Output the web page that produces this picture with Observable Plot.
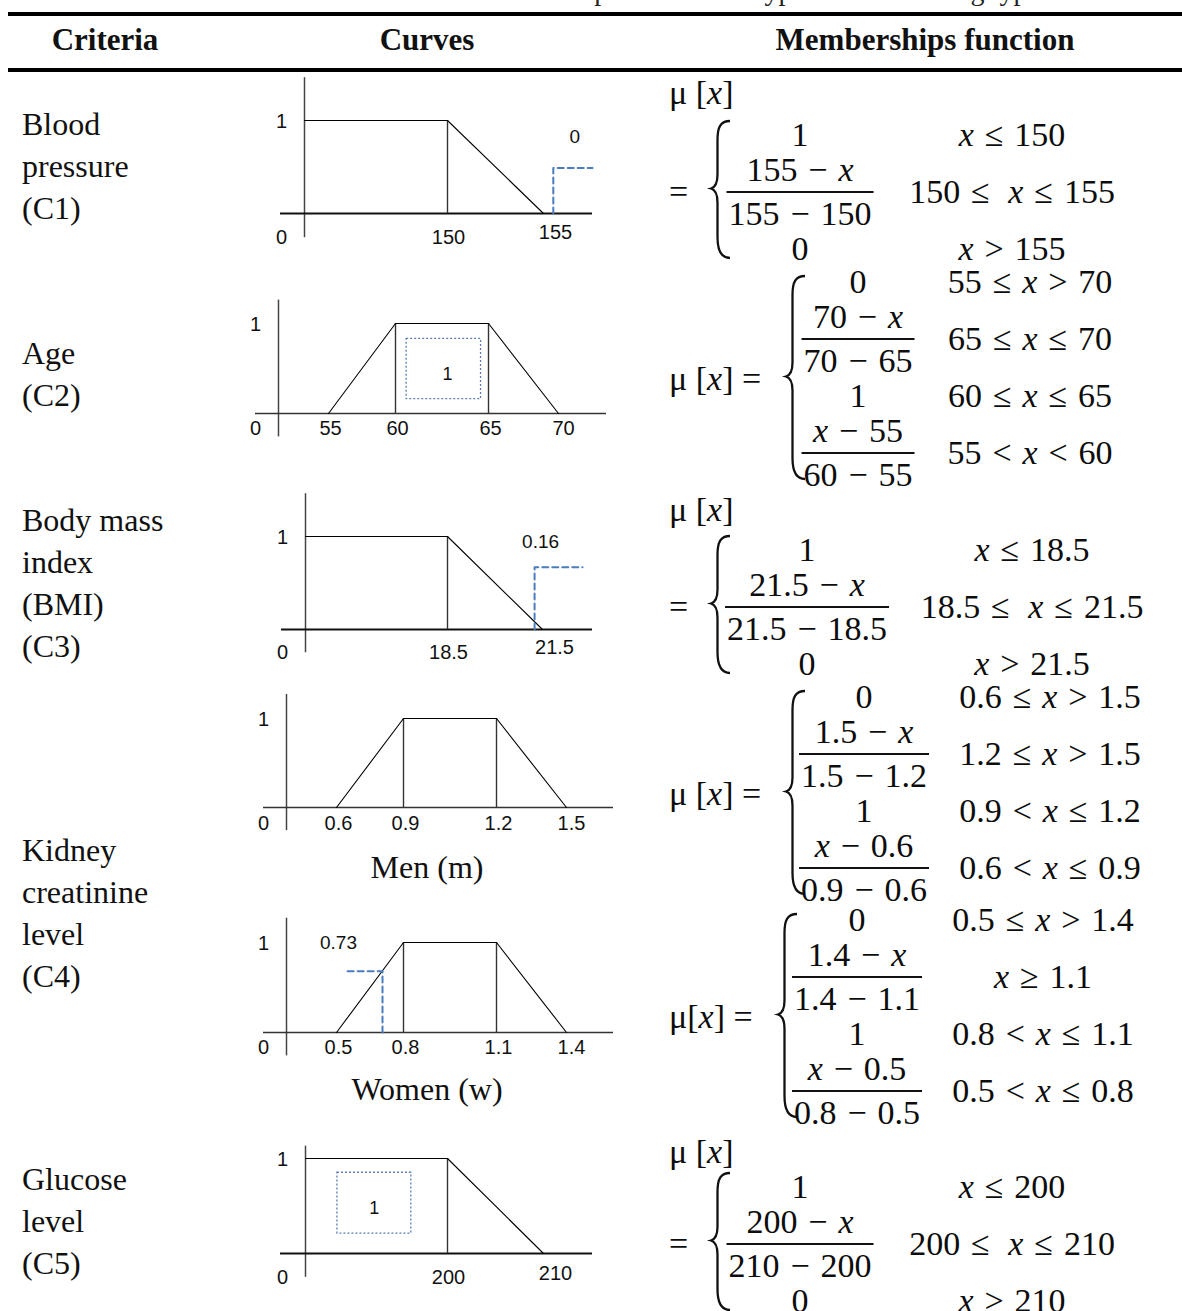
<!DOCTYPE html>
<html><head><meta charset="utf-8">
<script src="https://cdn.jsdelivr.net/npm/d3@7"></script>
<script src="https://cdn.jsdelivr.net/npm/@observablehq/plot@0.6"></script>
<style>
body{margin:0;background:#fff;}
#page{position:relative;width:1182px;height:1311px;overflow:hidden;background:#fff;color:#111;font-family:"Liberation Serif","Times New Roman",serif;}
.abs{position:absolute;white-space:nowrap;}
.rule{position:absolute;left:8px;right:0;background:#000;}
.hdr{font-weight:bold;font-size:31px;line-height:31px;transform:translateX(-50%);}
.crit{font-size:32px;line-height:42px;left:22px;}
.sub{font-size:32px;line-height:32px;transform:translateX(-50%);}
.math{font-family:"Liberation Serif",serif;font-size:34px;line-height:26px;color:#0d0d0d;}
.math i{font-style:italic;}
.op{margin:0 0.32em;}
.op.wide{margin-right:0.55em;}
.frac{display:inline-flex;flex-direction:column;align-items:center;}
.num{padding:0 2px 7.45px 2px;line-height:26px;}
.bar{align-self:stretch;height:2.6px;background:#111;}
.den{padding:7.45px 2px 0 2px;line-height:26px;}
.chart{position:absolute;left:240px;}
</style></head>
<body><div id="page"></div>
<script>
// ---------------- DATA ----------------
const captionText = "Table 3. Curves and memberships function of types of CKD rating types";
const headers = ["Criteria", "Curves", "Memberships function"];
const criteriaLabels = [
  ["Blood", "pressure", "(C1)"],
  ["Age", "(C2)"],
  ["Body mass", "index", "(BMI)", "(C3)"],
  ["Kidney", "creatinine", "level", "(C4)"],
  ["Glucose", "level", "(C5)"]
];
const subLabels = ["Men (m)", "Women (w)"];

// C1 blood pressure
const bpTicks = [0, 150, 155];
const bpTickLabels = ["0", "150", "155"];
const bpCurveX = [0, 150, 155];
const bpCurveY = [1, 1, 0];
const bpDrops = [150];
const bpMarkerX = [156, 156, 160];
const bpMarkerY = [0, 0.49, 0.49];
const bpNote = ["0", 158.2, 0.82];

// C2 age
const ageTicks = [0, 55, 60, 65, 70];
const ageTickLabels = ["0", "55", "60", "65", "70"];
const ageCurveX = [55, 60, 65, 70];
const ageCurveY = [0, 1, 1, 0];
const ageDrops = [60, 65];
const ageBox = [60.6, 64.6, 0.16, 0.83];
const ageNote = ["1", 62.8, 0.44];

// C3 BMI
const bmiTicks = [0, 18.5, 21.5];
const bmiTickLabels = ["0", "18.5", "21.5"];
const bmiCurveX = [0, 18.5, 21.5];
const bmiCurveY = [1, 1, 0];
const bmiDrops = [18.5];
const bmiMarkerX = [21.25, 21.25, 22.7];
const bmiMarkerY = [0, 0.67, 0.67];
const bmiNote = ["0.16", 21.44, 0.94];

// C4 creatinine, men
const menTicks = [0, 0.6, 0.9, 1.2, 1.5];
const menTickLabels = ["0", "0.6", "0.9", "1.2", "1.5"];
const menCurveX = [0.6, 0.9, 1.2, 1.5];
const menCurveY = [0, 1, 1, 0];
const menDrops = [0.9, 1.2];

// C4 creatinine, women
const womenTicks = [0, 0.5, 0.8, 1.1, 1.4];
const womenTickLabels = ["0", "0.5", "0.8", "1.1", "1.4"];
const womenCurveX = [0.5, 0.8, 1.1, 1.4];
const womenCurveY = [0, 1, 1, 0];
const womenDrops = [0.8, 1.1];
const womenMarkerX = [0.55, 0.706, 0.706];
const womenMarkerY = [0.68, 0.68, 0];
const womenNote = ["0.73", 0.509, 0.99];

// C5 glucose
const gluTicks = [0, 200, 210];
const gluTickLabels = ["0", "200", "210"];
const gluCurveX = [0, 200, 210];
const gluCurveY = [1, 1, 0];
const gluDrops = [200];
const gluBox = [45, 149, 0.21, 0.85];
const gluNote = ["1", 97, 0.48];

// membership functions (value | condition)
const bpRows = [
  {val: "1", cond: "x ≤ 150"},
  {num: "155 − x", den: "155 − 150", cond: "150 ≤  x ≤ 155"},
  {val: "0", cond: "x > 155"}
];
const ageRows = [
  {val: "0", cond: "55 ≤ x > 70"},
  {num: "70 − x", den: "70 − 65", cond: "65 ≤ x ≤ 70"},
  {val: "1", cond: "60 ≤ x ≤ 65"},
  {num: "x − 55", den: "60 − 55", cond: "55 < x < 60"}
];
const bmiRows = [
  {val: "1", cond: "x ≤ 18.5"},
  {num: "21.5 − x", den: "21.5 − 18.5", cond: "18.5 ≤  x ≤ 21.5"},
  {val: "0", cond: "x > 21.5"}
];
const menRows = [
  {val: "0", cond: "0.6 ≤ x > 1.5"},
  {num: "1.5 − x", den: "1.5 − 1.2", cond: "1.2 ≤ x > 1.5"},
  {val: "1", cond: "0.9 < x ≤ 1.2"},
  {num: "x − 0.6", den: "0.9 − 0.6", cond: "0.6 < x ≤ 0.9"}
];
const womenRows = [
  {val: "0", cond: "0.5 ≤ x > 1.4"},
  {num: "1.4 − x", den: "1.4 − 1.1", cond: "x ≥ 1.1"},
  {val: "1", cond: "0.8 < x ≤ 1.1"},
  {num: "x − 0.5", den: "0.8 − 0.5", cond: "0.5 < x ≤ 0.8"}
];
const gluRows = [
  {val: "1", cond: "x ≤ 200"},
  {num: "200 − x", den: "210 − 200", cond: "200 ≤  x ≤ 210"},
  {val: "0", cond: "x > 210"}
];

// ---------------- LAYOUT ----------------
const page = document.getElementById("page");
function el(tag, cls, style, parent = page) {
  const e = document.createElement(tag);
  if (cls) e.className = cls;
  if (style) e.style.cssText = style;
  parent.appendChild(e);
  return e;
}

// caption (cut at the top edge) and rules
const cap = el("div", "abs", "left:645px;top:-23px;font-size:28px;line-height:28px;transform:translateX(-50%);color:#222;");
cap.textContent = captionText;
el("div", "rule", "top:12px;height:4px;");
el("div", "rule", "top:68px;height:4px;");
const hdrX = [105, 427, 925];
headers.forEach((h, i) => {
  const d = el("div", "abs hdr", `left:${hdrX[i]}px;top:24px;`);
  d.textContent = h;
});

// criteria column
const critBaselines = [135, 364, 531, 861, 1190];
criteriaLabels.forEach((lines, i) => {
  const d = el("div", "abs crit", `top:${critBaselines[i] - 32}px;`);
  d.innerHTML = lines.join("<br>");
});
const subY = [870, 1092];
subLabels.forEach((s, i) => {
  const d = el("div", "abs sub", `left:427px;top:${subY[i] - 19}px;`);
  d.textContent = s;
});

// ---------------- CHARTS ----------------
const labelFont = "Liberation Sans, Arial, sans-serif";
const LABEL_SIZE = 20;
function curveChart(c) {
  const L = 240;
  const xr = c.xRange.map(v => v - L);
  const yr = [c.y0 - c.top, c.y1 - c.top];
  const xd = c.xDomain;
  const curve = c.curveX.map((x, i) => ({x, y: c.curveY[i]}));
  const ticks = c.ticks.map((v, i) => ({v, t: c.labels[i]}));
  const last = ticks.length - 1;
  const txt = {fontSize: LABEL_SIZE, fontFamily: labelFont, fill: "#111"};
  const marks = [
    Plot.ruleX([0], {x: d => d, y1: () => c.yAxis[0], y2: () => c.yAxis[1], stroke: "#444", strokeWidth: 1.5}),
    Plot.ruleY([0], {y: d => d, x1: () => xd[0], x2: () => xd[xd.length - 1], stroke: c.axisColor, strokeWidth: c.axisW}),
    Plot.ruleX(c.drops, {x: d => d, y1: () => 0, y2: () => 1, stroke: "#333", strokeWidth: 1.4}),
    Plot.line(curve, {x: "x", y: "y", stroke: "#000", strokeWidth: 1.1}),
    Plot.text(ticks.filter((d, i) => i > 0 && i < last), {x: "v", y: () => 0, text: "t", dy: c.labelDy, dx: c.labelDx, ...txt}),
    Plot.text(ticks.filter((d, i) => i === last), {x: "v", y: () => 0, text: "t", dy: c.labelDy + c.lastDy, dx: c.lastDx, ...txt}),
    Plot.text(ticks.filter(d => d.v === 0), {x: "v", y: () => 0, text: "t", dy: c.labelDy, dx: -23, ...txt}),
    Plot.text(["1"], {x: () => 0, y: () => 1, text: d => d, dx: -23, dy: 1, ...txt})
  ];
  if (c.markerX) {
    const pts = c.markerX.map((x, i) => ({x, y: c.markerY[i]}));
    marks.push(Plot.line(pts, {x: "x", y: "y", stroke: "#4a7cbf", strokeWidth: 2, strokeDasharray: "6,4"}));
  }
  if (c.box) {
    marks.push(Plot.rect([c.box], {x1: d => d[0], x2: d => d[1], y1: d => d[2], y2: d => d[3], fill: "none", stroke: "#5b7db4", strokeWidth: 1.3, strokeDasharray: "2,2"}));
  }
  if (c.note) {
    marks.push(Plot.text([c.note], {x: d => d[1], y: d => d[2], text: d => d[0], ...txt, fontSize: c.box ? 18 : 19}));
  }
  const svg = Plot.plot({
    width: 400, height: c.h,
    marginLeft: 0, marginRight: 0, marginTop: 0, marginBottom: 0,
    x: {type: "linear", domain: xd, range: xr, axis: null},
    y: {type: "linear", domain: [0, 1], range: yr, axis: null},
    style: {background: "transparent", overflow: "visible"},
    marks
  });
  const wrap = el("div", "chart", `top:${c.top}px;`);
  wrap.appendChild(svg);
}

const tplA = {axisW: 2.2, axisColor: "#111", labelDx: 1, lastDx: 12};
const tplB = {axisW: 1.6, axisColor: "#333", labelDx: 2, lastDx: 5, lastDy: 0};

curveChart({...tplA, top: 70, h: 185, xDomain: [-25, 0, 150, 155, 160], xRange: [280, 304, 447, 543, 592],
  y0: 213, y1: 120, yAxis: [-0.26, 1.46], labelDy: 24, lastDy: -5,
  ticks: bpTicks, labels: bpTickLabels, curveX: bpCurveX, curveY: bpCurveY, drops: bpDrops,
  markerX: bpMarkerX, markerY: bpMarkerY, note: bpNote});
curveChart({...tplB, top: 290, h: 160, xDomain: [-5, 0, 55, 60, 65, 70, 75], xRange: [255, 278, 328, 395, 488, 558, 606],
  y0: 413, y1: 323, yAxis: [-0.26, 1.26], labelDy: 15,
  ticks: ageTicks, labels: ageTickLabels, curveX: ageCurveX, curveY: ageCurveY, drops: ageDrops,
  box: ageBox, note: ageNote});
curveChart({...tplA, top: 480, h: 190, xDomain: [-3, 0, 18.5, 21.5, 23], xRange: [281, 305, 447, 542, 592],
  y0: 629, y1: 536, yAxis: [-0.25, 1.46], labelDy: 23, lastDy: -5,
  ticks: bmiTicks, labels: bmiTickLabels, curveX: bmiCurveX, curveY: bmiCurveY, drops: bmiDrops,
  markerX: bmiMarkerX, markerY: bmiMarkerY, note: bmiNote});
curveChart({...tplB, top: 685, h: 155, xDomain: [-0.1, 0, 0.6, 0.9, 1.2, 1.5, 1.65], xRange: [263, 286, 336, 403, 496, 566, 613],
  y0: 807, y1: 718, yAxis: [-0.26, 1.27], labelDy: 16,
  ticks: menTicks, labels: menTickLabels, curveX: menCurveX, curveY: menCurveY, drops: menDrops});
curveChart({...tplB, top: 908, h: 155, xDomain: [-0.1, 0, 0.5, 0.8, 1.1, 1.4, 1.55], xRange: [263, 286, 336, 403, 496, 566, 613],
  y0: 1032, y1: 942, yAxis: [-0.26, 1.27], labelDy: 15,
  ticks: womenTicks, labels: womenTickLabels, curveX: womenCurveX, curveY: womenCurveY, drops: womenDrops,
  markerX: womenMarkerX, markerY: womenMarkerY, note: womenNote});
curveChart({...tplA, top: 1136, h: 160, xDomain: [-30, 0, 200, 210, 215], xRange: [280, 305, 447, 543, 592],
  y0: 1253, y1: 1158, yAxis: [-0.25, 1.13], labelDy: 24, lastDy: -4,
  ticks: gluTicks, labels: gluTickLabels, curveX: gluCurveX, curveY: gluCurveY, drops: gluDrops,
  box: gluBox, note: gluNote});

// ---------------- FORMULAS ----------------
function mathInto(parent, str) {
  const toks = str.split(" ");
  toks.forEach((tok, k) => {
    if (tok === "") return;
    if (tok === "x") { const i = document.createElement("i"); i.textContent = "x"; parent.appendChild(i); }
    else if ("≤<>≥−=".includes(tok)) {
      const s = document.createElement("span");
      s.className = toks[k + 1] === "" ? "op wide" : "op";
      s.textContent = tok; parent.appendChild(s);
    }
    else parent.appendChild(document.createTextNode(tok));
  });
}
function lhsInto(parent, tight, withEq) {
  parent.appendChild(document.createTextNode(tight ? "μ[" : "μ ["));
  const i = document.createElement("i"); i.textContent = "x"; parent.appendChild(i);
  parent.appendChild(document.createTextNode(withEq ? "] =" : "]"));
}
function brace(x, y1, y2) {
  const ns = "http://www.w3.org/2000/svg";
  const h = y2 - y1, w = 19, m = h / 2, s = 6.5;
  const svg = document.createElementNS(ns, "svg");
  svg.setAttribute("width", w + 2); svg.setAttribute("height", h + 2);
  svg.style.cssText = `position:absolute;left:${x}px;top:${y1 - 1}px;overflow:visible;`;
  const p = document.createElementNS(ns, "path");
  p.setAttribute("d", `M${w},1 C${s + 3},1 ${s},7 ${s},20 L${s},${m - 14} C${s},${m - 5} ${s - 3},${m - 1} 0,${m} C${s - 3},${m + 1} ${s},${m + 5} ${s},${m + 14} L${s},${h - 20} C${s},${h - 7} ${s + 3},${h + 1} ${w},${h + 1}`);
  p.setAttribute("fill", "none"); p.setAttribute("stroke", "#111"); p.setAttribute("stroke-width", "2.3");
  svg.appendChild(p);
  page.appendChild(svg);
}
function piecewise(f, rows) {
  const SINGLE = 34, FRAC = 80, HALF = 13, FRAC_C = 34.75;
  let y = f.top;
  const centers = rows.map(r => { const h = r.num ? FRAC : SINGLE; const c = y + h / 2; y += h; return c; });
  const bottom = y, mid = (f.top + bottom) / 2;
  if (f.split) {
    lhsInto(el("div", "abs math", `left:669px;top:${f.muY - HALF}px;`), false, false);
    el("div", "abs math", `left:669px;top:${mid - HALF}px;`).textContent = "=";
  } else {
    lhsInto(el("div", "abs math", `left:669px;top:${mid - HALF}px;`), f.tight, true);
  }
  const four = rows.length === 4;
  brace(f.braceX, f.top + (four ? 11 : 3), bottom - (four ? 14 : 8));
  rows.forEach((r, i) => {
    if (r.num) {
      const box = el("div", "abs math", `left:${f.valCx}px;top:${centers[i] - FRAC_C}px;transform:translateX(-50%);`);
      const fr = el("div", "frac", "", box);
      mathInto(el("div", "num", "", fr), r.num);
      el("div", "bar", "", fr);
      mathInto(el("div", "den", "", fr), r.den);
    } else {
      const v = el("div", "abs math", `left:${f.valCx}px;top:${centers[i] - HALF}px;transform:translateX(-50%);`);
      mathInto(v, r.val);
    }
    const c = el("div", "abs math", `left:${f.condCx}px;top:${centers[i] - HALF}px;transform:translateX(-50%);`);
    mathInto(c, r.cond);
  });
}
piecewise({top: 118, split: true, muY: 93, braceX: 711, valCx: 800, condCx: 1012}, bpRows);
piecewise({top: 265, split: false, braceX: 786, valCx: 858, condCx: 1030}, ageRows);
piecewise({top: 533, split: true, muY: 510, braceX: 711, valCx: 807, condCx: 1032}, bmiRows);
piecewise({top: 680, split: false, braceX: 786, valCx: 864, condCx: 1050}, menRows);
piecewise({top: 903, split: false, tight: true, braceX: 778, valCx: 857, condCx: 1043}, womenRows);
piecewise({top: 1170, split: true, muY: 1152, braceX: 711, valCx: 800, condCx: 1012}, gluRows);
</script>
</body></html>
